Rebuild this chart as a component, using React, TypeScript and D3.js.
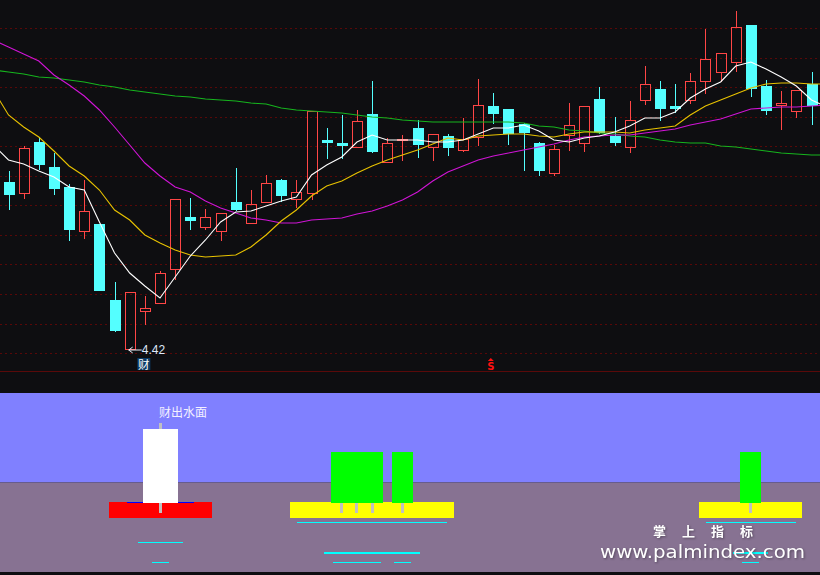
import * as d3 from 'd3';
import React, { useEffect, useRef } from 'react';

// daily candles, index 0..53
const opens = [
  6.10, 5.99, 6.50, 6.25, 6.05, 5.61, 5.68, 4.92, 4.43, 4.81,
  4.89, 5.23, 5.75, 5.65, 5.61, 5.90, 5.69, 5.90, 6.12, 5.93,
  5.99, 6.52, 6.49, 6.45, 6.78, 6.30, 6.52, 6.64, 6.45, 6.56,
  6.42, 6.55, 6.86, 6.83, 6.68, 6.49, 6.19, 6.57, 6.49, 6.93,
  6.56, 6.45, 6.92, 7.03, 6.86, 6.92, 7.11, 7.20, 7.30, 7.67,
  7.06, 6.87, 6.81, 7.08,
];
const highs = [
  6.21, 6.46, 6.55, 6.39, 6.08, 6.12, 5.68, 5.10, 5.00, 4.96,
  5.21, 5.93, 5.94, 5.83, 5.79, 6.24, 6.02, 6.17, 6.13, 6.12,
  6.81, 6.64, 6.77, 6.82, 7.11, 6.54, 6.57, 6.72, 6.58, 6.58,
  6.74, 7.13, 6.99, 6.83, 6.69, 6.50, 6.47, 6.89, 6.86, 7.05,
  6.75, 6.91, 7.26, 7.11, 7.08, 7.19, 7.63, 7.39, 7.81, 7.67,
  7.12, 7.01, 7.02, 7.20,
];
const lows = [
  5.82, 5.93, 6.22, 5.97, 5.51, 5.53, 5.01, 4.60, 4.42, 4.67,
  4.89, 5.12, 5.62, 5.62, 5.51, 5.81, 5.69, 5.90, 5.90, 5.84,
  5.92, 6.33, 6.33, 6.45, 6.39, 6.30, 6.31, 6.34, 6.31, 6.36,
  6.40, 6.46, 6.68, 6.47, 6.21, 6.16, 6.16, 6.41, 6.40, 6.58,
  6.46, 6.39, 6.87, 6.71, 6.79, 6.88, 6.98, 7.10, 7.20, 6.95,
  6.77, 6.62, 6.74, 6.67,
];
const closes = [
  5.97, 6.44, 6.27, 6.03, 5.62, 5.81, 5.01, 4.61, 5.00, 4.84,
  5.19, 5.93, 5.71, 5.75, 5.79, 5.82, 5.88, 6.09, 5.96, 6.00,
  6.81, 6.49, 6.46, 6.71, 6.40, 6.49, 6.53, 6.47, 6.58, 6.44,
  6.53, 6.87, 6.78, 6.58, 6.59, 6.21, 6.43, 6.67, 6.86, 6.59,
  6.49, 6.72, 7.08, 6.83, 6.83, 7.11, 7.33, 7.39, 7.65, 7.03,
  6.81, 6.89, 7.02, 6.86,
];

// moving averages, index -1..54 (one value past each edge)
const ma5 = [
  6.47, 6.32, 6.28, 6.21, 6.15, 6.05, 6.02, 5.70, 5.39, 5.19, 5.06,
  4.94, 5.15, 5.36, 5.52, 5.70, 5.80, 5.81, 5.86, 5.91, 5.95,
  6.17, 6.27, 6.35, 6.50, 6.57, 6.52, 6.52, 6.52, 6.50, 6.50,
  6.52, 6.58, 6.64, 6.64, 6.67, 6.61, 6.52, 6.50, 6.54, 6.56,
  6.60, 6.66, 6.74, 6.74, 6.80, 6.94, 7.03, 7.10, 7.26, 7.30,
  7.23, 7.15, 7.06, 6.92, 6.85,
];
const ma10 = [
  7.02, 6.77, 6.65, 6.55, 6.41, 6.26, 6.16, 6.02, 5.82, 5.72, 5.57,
  5.49, 5.42, 5.37, 5.35, 5.36, 5.37, 5.45, 5.57, 5.71, 5.82,
  5.96, 6.06, 6.11, 6.19, 6.26, 6.32, 6.37, 6.42, 6.48, 6.54,
  6.52, 6.56, 6.57, 6.58, 6.58, 6.56, 6.55, 6.58, 6.60, 6.60,
  6.60, 6.59, 6.62, 6.64, 6.66, 6.77, 6.86, 6.92, 6.98, 7.04,
  7.08, 7.09, 7.09, 7.08, 7.08,
];
const ma30 = [
  7.52, 7.45, 7.38, 7.31, 7.17, 7.07, 6.96, 6.82, 6.65, 6.47, 6.29,
  6.16, 6.05, 6.00, 5.91, 5.84, 5.79, 5.74, 5.72, 5.69, 5.69,
  5.72, 5.73, 5.74, 5.78, 5.81, 5.86, 5.92, 6.00, 6.11, 6.20,
  6.26, 6.32, 6.36, 6.39, 6.42, 6.45, 6.48, 6.52, 6.55, 6.56,
  6.57, 6.57, 6.59, 6.61, 6.63, 6.67, 6.70, 6.73, 6.78, 6.83,
  6.84, 6.85, 6.85, 6.86, 6.87,
];
const ma60 = [
  7.22, 7.20, 7.18, 7.15, 7.14, 7.12, 7.10, 7.07, 7.05, 7.02, 7.00,
  6.98, 6.96, 6.95, 6.93, 6.92, 6.91, 6.89, 6.88, 6.84, 6.82,
  6.81, 6.80, 6.79, 6.77, 6.75, 6.74, 6.72, 6.71, 6.70, 6.70,
  6.70, 6.70, 6.70, 6.70, 6.69, 6.66, 6.65, 6.62, 6.61, 6.59,
  6.58, 6.56, 6.55, 6.52, 6.50, 6.49, 6.49, 6.46, 6.45, 6.43,
  6.41, 6.39, 6.38, 6.37, 6.37,
];

// lower indicator: days flagged by the signal
const waterDays = [10]; // 财出水面
const greenDays = [22, 23, 24, 26, 49];
const lowDay = 8;
const lowLabel = '4.42';
const caiDay = 9;
const sellDay = 32;

const W = 820;
const H = 575;
const mainBottom = 371;
const lowTop = 393;
const lowBottom = 572;

const BG = '#0e0e11';
const RED = '#ff4646';
const CYAN = '#54ffff';

const App = () => {
  const svgRef = useRef(null);

  useEffect(() => {
    const svg = d3.select(svgRef.current);
    svg.selectAll('*').remove();

    const x = d3.scaleLinear().domain([0, 53]).range([8.5, 811.5]);
    const y = d3.scaleLinear().domain([4.21, 7.92]).range([mainBottom, 0]);
    const yl = d3.scaleLinear().domain([0, 100]).range([lowBottom, lowTop]);

    svg.append('rect').attr('width', W).attr('height', H).attr('fill', BG);

    // grid
    const grid = svg.append('g');
    d3.range(12).forEach((k) => {
      const gy = Math.round(28 + k * 29.55) + 0.5;
      grid
        .append('line')
        .attr('x1', 0)
        .attr('x2', W)
        .attr('y1', gy)
        .attr('y2', gy)
        .attr('stroke', '#580808')
        .attr('stroke-dasharray', '2,3');
    });
    svg
      .append('line')
      .attr('x1', 0)
      .attr('x2', W)
      .attr('y1', mainBottom + 0.5)
      .attr('y2', mainBottom + 0.5)
      .attr('stroke', '#5a0a0a');

    svg
      .append('clipPath')
      .attr('id', 'mainClip')
      .append('rect')
      .attr('width', W)
      .attr('height', mainBottom);

    // candles
    const cg = svg.append('g').attr('shape-rendering', 'crispEdges');
    opens.forEach((o, i) => {
      const c = closes[i];
      const cx = Math.round(x(i)) + 0.5;
      const top = y(Math.max(o, c));
      const bot = y(Math.min(o, c));
      const up = c >= o;
      const col = up ? RED : CYAN;
      if (up) {
        cg.append('line')
          .attr('x1', cx).attr('x2', cx)
          .attr('y1', y(highs[i])).attr('y2', top)
          .attr('stroke', col);
        cg.append('line')
          .attr('x1', cx).attr('x2', cx)
          .attr('y1', bot).attr('y2', y(lows[i]))
          .attr('stroke', col);
        cg.append('rect')
          .attr('x', cx - 5)
          .attr('y', top)
          .attr('width', 10)
          .attr('height', Math.max(1, bot - top))
          .attr('fill', 'none')
          .attr('stroke', col);
      } else {
        cg.append('line')
          .attr('x1', cx).attr('x2', cx)
          .attr('y1', y(highs[i])).attr('y2', y(lows[i]))
          .attr('stroke', col);
        cg.append('rect')
          .attr('x', cx - 5.5)
          .attr('y', top)
          .attr('width', 11)
          .attr('height', Math.max(2, bot - top))
          .attr('fill', col);
      }
    });

    // moving averages
    const line = d3
      .line<number>()
      .x((_, i) => x(i - 1))
      .y((d) => y(d));
    const mg = svg.append('g').attr('clip-path', 'url(#mainClip)');
    [
      { data: ma60, color: '#16b41e' },
      { data: ma30, color: '#d014d6' },
      { data: ma10, color: '#e8c200' },
      { data: ma5, color: '#ffffff' },
    ].forEach((s) => {
      mg.append('path')
        .datum(s.data)
        .attr('d', line)
        .attr('fill', 'none')
        .attr('stroke', s.color)
        .attr('stroke-width', 1.1);
    });

    // low marker
    const lx = x(lowDay);
    const ly = y(lows[lowDay]);
    svg
      .append('path')
      .attr('d', `M${lx - 1},${ly} l4,-3 M${lx - 1},${ly} l4,3 M${lx - 1},${ly} h13`)
      .attr('stroke', '#e8eef8')
      .attr('fill', 'none');
    svg
      .append('text')
      .attr('x', lx + 12)
      .attr('y', ly + 4)
      .attr('fill', '#dfe8fa')
      .attr('font-family', 'Liberation Sans, Arial, sans-serif')
      .attr('font-size', 12)
      .text(lowLabel);

    // 财 tag
    const tx = x(caiDay) - 1;
    svg
      .append('rect')
      .attr('x', tx - 6.5)
      .attr('y', 358)
      .attr('width', 13)
      .attr('height', 12)
      .attr('fill', '#0c3a66');
    svg
      .append('text')
      .attr('x', tx)
      .attr('y', 368.5)
      .attr('text-anchor', 'middle')
      .attr('fill', '#ffffff')
      .attr('font-family', 'Noto Sans CJK SC')
      .attr('font-size', 11.5)
      .text('财');

    // sell marker
    const sx = x(sellDay) - 2.5;
    svg
      .append('path')
      .attr('d', `M${sx - 3},${361} L${sx},${358} L${sx + 3},${361} Z`)
      .attr('fill', '#ff1010');
    svg
      .append('text')
      .attr('x', sx)
      .attr('y', 370)
      .attr('text-anchor', 'middle')
      .attr('fill', '#ff1010')
      .attr('font-weight', 'bold')
      .attr('font-family', 'DejaVu Sans, sans-serif')
      .attr('font-size', 10)
      .text('S');

    // lower panel background
    svg
      .append('rect')
      .attr('x', 0)
      .attr('y', yl(100))
      .attr('width', W)
      .attr('height', yl(50) - yl(100))
      .attr('fill', '#8080ff');
    svg
      .append('rect')
      .attr('x', 0)
      .attr('y', yl(50))
      .attr('width', W)
      .attr('height', yl(0) - yl(50))
      .attr('fill', '#877292');

    const lg = svg.append('g').attr('shape-rendering', 'crispEdges');
    const hbar = (i: number, v: number, w: number, col: string) =>
      lg.append('rect')
        .attr('x', x(i) - w / 2)
        .attr('y', yl(v))
        .attr('width', w)
        .attr('height', 1.2)
        .attr('fill', col);
    const block = (i: number, v0: number, v1: number, w: number, col: string) =>
      lg.append('rect')
        .attr('x', x(i) - w / 2)
        .attr('y', yl(v1))
        .attr('width', w)
        .attr('height', yl(v0) - yl(v1))
        .attr('fill', col);

    // bases first so neighbouring signals overlap
    waterDays.forEach((i) => block(i, 30, 39, 103, '#ff0000'));
    greenDays.forEach((i) => block(i, 30, 39, 103, '#ffff00'));
    waterDays.forEach((i) => hbar(i, 39, 67, '#0000ff'));
    greenDays.forEach((i) => hbar(i, 28, 90, '#00ffff'));
    greenDays.forEach((i) => hbar(i, 11, 35, '#00ffff'));
    greenDays.forEach((i) => hbar(i, 5.5, 17, '#00ffff'));
    waterDays.forEach((i) => hbar(i, 17, 45, '#00ffff'));
    waterDays.forEach((i) => hbar(i, 5.5, 17, '#00ffff'));

    waterDays.forEach((i) => {
      block(i, 33, 83, 3, '#c0c0c0');
      block(i, 38.5, 80, 35, '#ffffff');
      svg
        .append('text')
        .attr('x', x(i) - 1)
        .attr('y', yl(86.5))
        .attr('fill', '#f4f0ff')
        .attr('font-family', 'Noto Sans CJK SC')
        .attr('font-size', 12)
        .text('财出水面');
    });
    greenDays.forEach((i) => {
      block(i, 33, 60, 3, '#c0c0c0');
      block(i, 38.5, 67, 21, '#00ff00');
    });

    svg
      .append('rect')
      .attr('x', 0)
      .attr('y', lowBottom)
      .attr('width', W)
      .attr('height', H - lowBottom)
      .attr('fill', BG);

    // watermark
    const wm = svg.append('g').attr('fill', '#ffffff');
    wm.append('text')
      .attr('x', 653)
      .attr('y', 536)
      .attr('font-family', 'Noto Sans CJK SC')
      .attr('font-weight', 'bold')
      .attr('font-size', 13)
      .attr('textLength', 100)
      .attr('lengthAdjust', 'spacing')
      .style('filter', 'drop-shadow(1px 1px 1px rgba(0,0,0,0.35))')
      .text('掌上指标');
    wm.append('text')
      .attr('x', 600)
      .attr('y', 557.5)
      .attr('font-family', 'DejaVu Sans, sans-serif')
      .attr('font-size', 18)
      .attr('textLength', 205)
      .attr('lengthAdjust', 'spacingAndGlyphs')
      .style('filter', 'drop-shadow(1px 1px 1px rgba(0,0,0,0.35))')
      .text('www.palmindex.com');
  }, []);

  return (
    <svg
      ref={svgRef}
      width={W}
      height={H}
      style={{ position: 'fixed', left: 0, top: 0, display: 'block' }}
    />
  );
};

export default App;
